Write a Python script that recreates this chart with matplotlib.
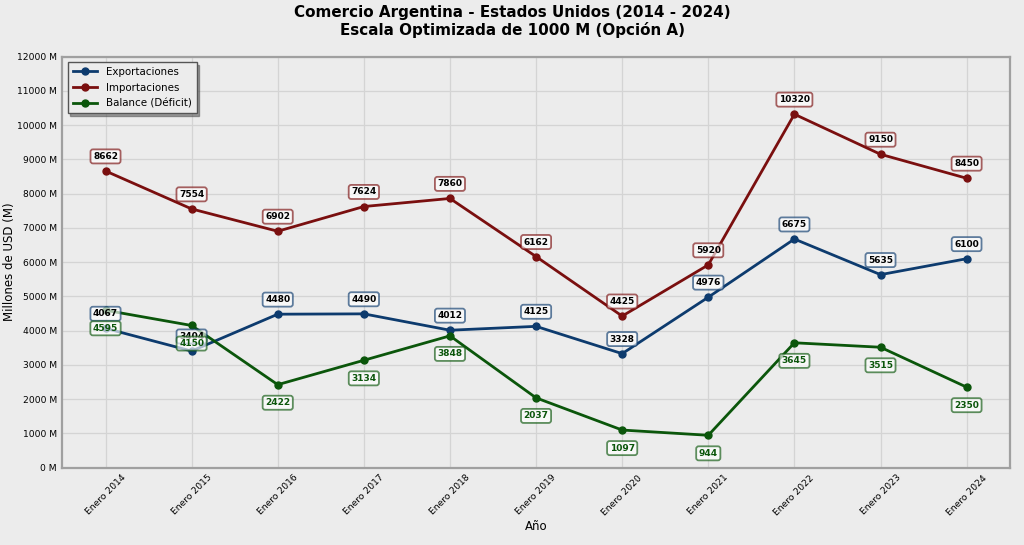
import matplotlib
matplotlib.use("Agg")
import matplotlib.pyplot as plt
from matplotlib.ticker import MultipleLocator, FuncFormatter

years = ["Enero 2014", "Enero 2015", "Enero 2016", "Enero 2017", "Enero 2018", "Enero 2019",
         "Enero 2020", "Enero 2021", "Enero 2022", "Enero 2023", "Enero 2024"]
exportaciones = [4067, 3404, 4480, 4490, 4012, 4125, 3328, 4976, 6675, 5635, 6100]
importaciones = [8662, 7554, 6902, 7624, 7860, 6162, 4425, 5920, 10320, 9150, 8450]
balance = [4595, 4150, 2422, 3134, 3848, 2037, 1097, 944, 3645, 3515, 2350]

c_exp = "#0d3b6e"
c_imp = "#7a0f0f"
c_bal = "#0b560b"
bg = "#ececec"

fig = plt.figure(figsize=(10.24, 5.45), dpi=100, facecolor=bg)
ax = fig.add_axes([0.061, 0.142, 0.925, 0.754])
ax.set_facecolor(bg)

x = list(range(len(years)))
ax.plot(x, exportaciones, color=c_exp, lw=2, marker="o", ms=5, label="Exportaciones")
ax.plot(x, importaciones, color=c_imp, lw=2, marker="o", ms=5, label="Importaciones")
ax.plot(x, balance, color=c_bal, lw=2, marker="o", ms=5, label="Balance (Déficit)")

def annotate(vals, color, txtcolor, dy):
    for xi, v in zip(x, vals):
        ax.annotate(str(v), (xi, v), xytext=(0, dy), textcoords="offset points",
                    ha="center", va="center", fontsize=6.5, fontweight="bold", color=txtcolor,
                    bbox=dict(boxstyle="round,pad=0.28", fc="white", ec=color, alpha=0.65, lw=1.3))

annotate(exportaciones, c_exp, "black", 10.5)
annotate(importaciones, c_imp, "black", 10.5)
annotate(balance, c_bal, c_bal, -13)

ax.set_xlim(-0.5, 10.5)
ax.set_ylim(0, 12000)
ax.yaxis.set_major_locator(MultipleLocator(1000))
ax.yaxis.set_major_formatter(FuncFormatter(lambda v, p: f"{int(v)} M"))
ax.set_xticks(x)
ax.set_xticklabels(years, rotation=45, fontsize=6.6)
ax.tick_params(axis="y", labelsize=6.6, length=0, pad=4)
ax.tick_params(axis="x", length=0, pad=4)
ax.grid(True, color="#d4d4d4", lw=0.9)
ax.set_axisbelow(True)
for s in ax.spines.values():
    s.set_color("#a0a0a0")
    s.set_linewidth(1.6)

ax.set_xlabel("Año", fontsize=8.5, labelpad=2)
ax.set_ylabel("Millones de USD (M)", fontsize=8.5, labelpad=1)
fig.suptitle("Comercio Argentina - Estados Unidos (2014 - 2024)\nEscala Optimizada de 1000 M (Opción A)",
             fontsize=10.9, fontweight="bold", y=0.99, linespacing=1.15)

leg = ax.legend(loc="upper left", fontsize=7.4, frameon=True, shadow=True, fancybox=False,
                borderpad=0.5, labelspacing=0.55, handlelength=2.4, borderaxespad=0.5)
leg.get_frame().set_facecolor(bg)
leg.get_frame().set_edgecolor("#555555")

fig.savefig("out.png", dpi=100, facecolor=bg)
